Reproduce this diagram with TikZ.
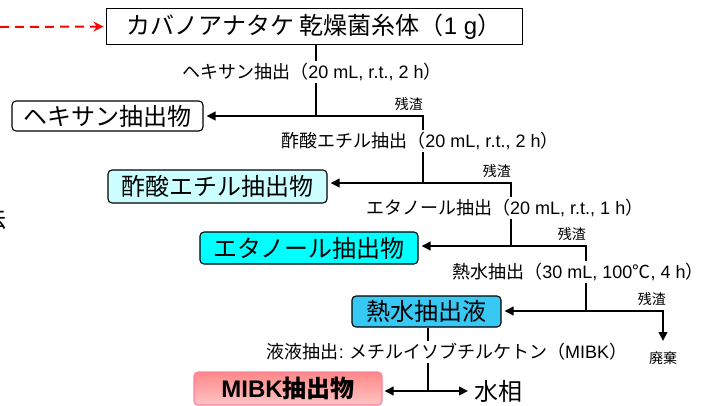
\documentclass[tikz,border=0pt]{standalone}
\usepackage{fontspec}
\setmainfont{Noto Sans CJK JP}
\newfontfamily\latf{Liberation Sans}
\newcommand{\lat}[1]{{\latf #1}}
\usetikzlibrary{arrows.meta}
\definecolor{lcyan}{HTML}{CCFFFF}
\definecolor{cyanbox}{HTML}{00FFFF}
\definecolor{skybox}{HTML}{38C8F4}
\definecolor{pinktop}{HTML}{FF8888}
\definecolor{pinkbot}{HTML}{FFC4C4}
\definecolor{pinkedge}{HTML}{FF7FA0}
\tikzset{
  flow/.style={line width=2.6pt},
  tip/.style={-{Triangle[length=9pt,width=8.5pt]}},
  proc/.style={font=\fontsize{18}{20}\selectfont, inner sep=2pt},
  res/.style={font=\fontsize{14}{16}\selectfont, inner sep=1pt},
  big/.style={font=\fontsize{24}{28}\selectfont},
  prod/.style={draw, line width=1.1pt, rounded corners=4pt, big, inner sep=0pt},
}
\begin{document}
\begin{tikzpicture}[x=1pt,y=-1pt]
\useasboundingbox (0,0) rectangle (705,405);

% fragment of text at left edge
\node[big, anchor=east, inner sep=0pt] (frag) at (7,218) {法};

% source
\node[draw, line width=1pt, minimum width=416pt, minimum height=36pt, big, inner sep=0pt] (src) at (314,26.5) {カバノアナタケ 乾燥菌糸体（\lat{1 g}）};
\coordinate (rs) at (0,27);
\draw[red, line width=2pt, dash pattern=on 9pt off 6pt, -{Stealth[length=10pt,width=10pt]}, shorten >=2pt] (rs) -- (src.west);

% step 1
\node[proc] (l1) at (312,72) {ヘキサン抽出（\lat{20 mL, r.t., 2 h}）};
\coordinate (j1) at (316,116);
\coordinate (r1) at (423,116);
\node[prod, fill=white, minimum width=191pt, minimum height=30pt] (b1) at (107.5,116) {ヘキサン抽出物};
\node[res, anchor=south east] (s1) at (424,112) {残渣};
\draw[flow] (src.south -| j1) -- (j1 |- l1.north);
\draw[flow] (j1 |- l1.south) -- (j1);

% step 2
\node[proc] (l2) at (420,141) {酢酸エチル抽出（\lat{20 mL, r.t., 2 h}）};
\coordinate (j2) at (423,183);
\coordinate (r2) at (511,183);
\node[prod, fill=lcyan, minimum width=219pt, minimum height=33pt] (b2) at (217.5,186.5) {酢酸エチル抽出物};
\node[res, anchor=south east] (s2) at (512,179) {残渣};
\draw[flow, tip, shorten >=3pt] (r1 |- l2.north) -- (r1) -- (b1.east);
\draw[flow] (r1 |- l2.south) -- (j2);

% step 3
\node[proc] (l3) at (505,208) {エタノール抽出（\lat{20 mL, r.t., 1 h}）};
\coordinate (j3) at (511,246);
\coordinate (r3) at (586,246);
\node[prod, fill=cyanbox, minimum width=218pt, minimum height=32pt] (b3) at (309,248) {エタノール抽出物};
\node[res, anchor=south east] (s3) at (587,242) {残渣};
\draw[flow, tip, shorten >=3pt] (r2 |- l3.north) -- (r2) -- (j2 -| b2.east);
\draw[flow] (r2 |- l3.south) -- (j3);

% step 4
\node[proc, inner xsep=0pt] (l4) at (578,272) {熱水抽出（\lat{30 mL, 100}℃\lat{, 4 h}）};
\coordinate (j4) at (586,311);
\coordinate (r4) at (663,311);
\coordinate (w) at (663,341);
\node[prod, fill=skybox, minimum width=149pt, minimum height=31pt] (b4) at (426.5,311.5) {熱水抽出液};
\node[res, anchor=south east] (s4) at (667,307) {残渣};
\node[res] (waste) at (663,358) {廃棄};
\draw[flow, tip, shorten >=3pt] (r3 |- l4.north) -- (r3) -- (j3 -| b3.east);
\draw[flow] (r3 |- l4.south) -- (j4);
\draw[flow, tip, shorten >=3pt] (j4) -- (j4 -| b4.east);
\draw[flow, tip] (j4) -- (r4) -- (w);

% step 5
\node[proc] (l5) at (447,352) {液液抽出\lat{:} メチルイソブチルケトン（\lat{MIBK}）};
\coordinate (j5) at (428,391);
\coordinate (aq) at (468,391);
\node[draw=pinkedge, line width=1.1pt, rounded corners=4pt, inner sep=0pt, top color=pinktop, bottom color=pinkbot, minimum width=188pt, minimum height=33pt, font=\fontsize{24}{28}\selectfont\bfseries] (b5) at (288,388.5) {\lat{MIBK}抽出物};
\node[big, anchor=west, inner sep=0pt] (water) at (474,391) {水相};
\draw[flow] (b4.south -| j5) -- (j5 |- l5.north);
\draw[flow] (j5 |- l5.south) -- (j5);
\draw[flow, tip, shorten >=2pt] (j5) -- (j5 -| b5.east);
\draw[flow, tip] (j5) -- (aq);
\end{tikzpicture}
\end{document}
